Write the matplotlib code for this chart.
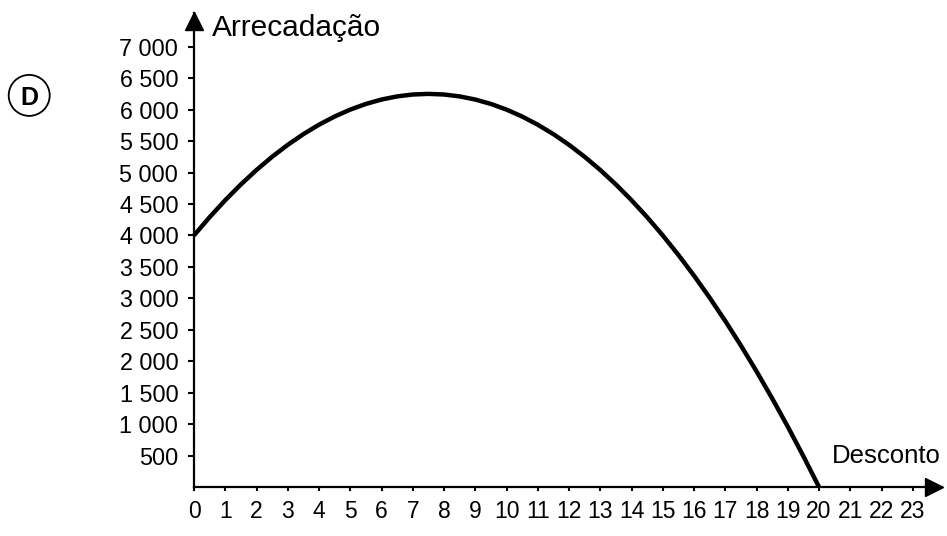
import matplotlib
matplotlib.use("Agg")
import matplotlib.pyplot as plt
from matplotlib.patches import Ellipse

plt.rcParams['font.family'] = ['Liberation Sans', 'DejaVu Sans']

# Revenue ("Arrecadação") as a function of the discount ("Desconto")
desconto = [0, 0.5, 1, 1.5, 2, 2.5, 3, 3.5, 4, 4.5, 5, 5.5, 6, 6.5, 7, 7.5,
            8, 8.5, 9, 9.5, 10, 10.5, 11, 11.5, 12, 12.5, 13, 13.5, 14, 14.5,
            15, 15.5, 16, 16.5, 17, 17.5, 18, 18.5, 19, 19.5, 20]
arrecadacao = [4000, 4290, 4560, 4810, 5040, 5250, 5440, 5610, 5760, 5890,
               6000, 6090, 6160, 6210, 6240, 6250, 6240, 6210, 6160, 6090,
               6000, 5890, 5760, 5610, 5440, 5250, 5040, 4810, 4560, 4290,
               4000, 3690, 3360, 3010, 2640, 2250, 1840, 1410, 960, 490, 0]

x_ticks = list(range(0, 24))
y_ticks = [500, 1000, 1500, 2000, 2500, 3000, 3500, 4000, 4500, 5000,
           5500, 6000, 6500, 7000]
y_tick_labels = ["500", "1 000", "1 500", "2 000", "2 500", "3 000", "3 500",
                 "4 000", "4 500", "5 000", "5 500", "6 000", "6 500", "7 000"]

W, H = 947, 536
fig = plt.figure(figsize=(W / 100, H / 100), dpi=100)

# axes geometry in pixels
x0_px, x_tip_px, px_per_x = 194, 942, 31.25
y0_px, y_tip_px, px_per_500 = 487, 13, 31.45
ax = fig.add_axes([x0_px / W, (H - y0_px) / H,
                   (x_tip_px - x0_px) / W, (y0_px - y_tip_px) / H])
ax.set_xlim(0, (x_tip_px - x0_px) / px_per_x)
ax.set_ylim(0, (y0_px - y_tip_px) / px_per_500 * 500)

ax.plot(desconto, arrecadacao, color="black", lw=3.2,
        solid_capstyle="butt", solid_joinstyle="round", clip_on=False)

for side in ("top", "right"):
    ax.spines[side].set_visible(False)
for side in ("left", "bottom"):
    ax.spines[side].set_linewidth(1.6)

# arrowheads at the ends of both axes
ax.plot([ax.get_xlim()[1] - 0.27], [0], marker=">", color="black",
        markersize=13, clip_on=False)
ax.plot([0], [ax.get_ylim()[1] - 130], marker="^", color="black",
        markersize=13, clip_on=False)

ax.set_xticks(x_ticks)
ax.set_xticklabels([str(v) for v in x_ticks])
ax.set_yticks(y_ticks)
ax.set_yticklabels(y_tick_labels)
ax.tick_params(axis="y", direction="out", length=4.3, width=1.5,
               labelsize=16.8, pad=7)
ax.tick_params(axis="x", direction="out", length=3, width=1.5,
               labelsize=16.5, pad=6)

fig.text(212 / W, (H - 36) / H, "Arrecadação", fontsize=21.5,
         ha="left", va="baseline")
fig.text(832 / W, (H - 463) / H, "Desconto", fontsize=18.5,
         ha="left", va="baseline")

# option marker
fig.patches.append(Ellipse((29.2 / W, 1 - 95.4 / H), 41 / W, 41 / H,
                           transform=fig.transFigure, fill=False,
                           lw=1.3, color="black"))
fig.text(29.8 / W, 1 - 105 / H, "D", fontsize=18, fontweight="bold",
         ha="center", va="baseline")

fig.savefig("out.png", dpi=100)
